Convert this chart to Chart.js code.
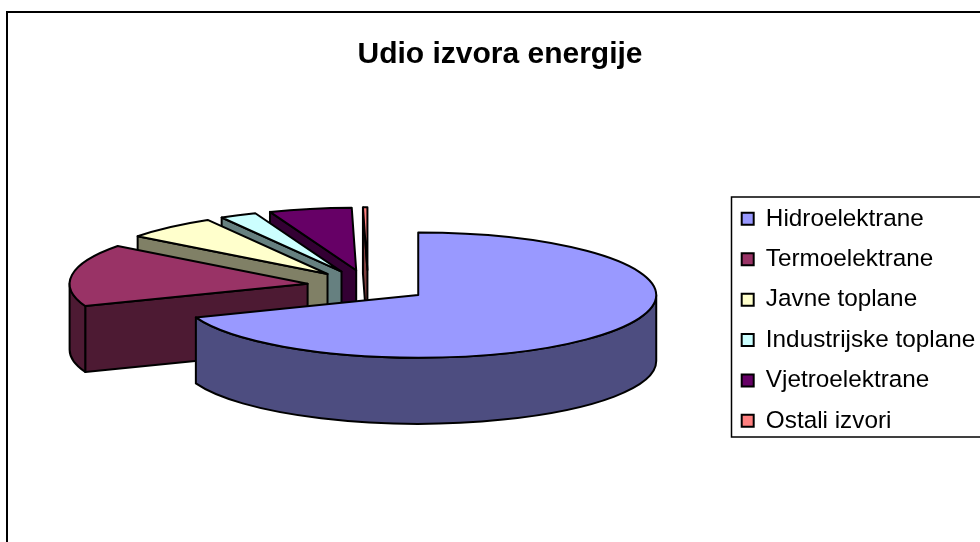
<!DOCTYPE html>
<html lang="hr">
<head>
    <meta charset="UTF-8">
    <title>Udio izvora energije</title>
    <script src="https://cdn.jsdelivr.net/npm/chart.js"></script>
    <style>
        html, body { margin: 0; padding: 0; background: #fff; }
        canvas { display: block; }
    </style>
</head>
<body>
    <canvas id="udio-chart" width="980" height="542"></canvas>

    <script>
        // Podaci ocitani sa slike (postotci)
        const categories = ['Hidroelektrane', 'Termoelektrane', 'Javne toplane', 'Industrijske toplane', 'Vjetroelektrane', 'Ostali izvori'];
        const shares = [69.2, 16.1, 6.3, 2.5, 5.6, 0.3];
        const topColors = ['#9999FF', '#993366', '#FFFFCC', '#CCFFFF', '#660066', '#FF8080'];
        const wallColors = ['#4D4D80', '#4D1A33', '#808066', '#668080', '#330033', '#804040'];
        const chartTitle = 'Udio izvora energije';

        // 3D izgled pite
        const PIE_X = 368, PIE_Y = 286, RADIUS = 238, SQUASH = 0.263, DEPTH = 66, EXPLODE = 61;
        const OUTLINE = 2;

        function drawSlice(ctx, arc, index) {
            const a0 = arc.startAngle, a1 = arc.endAngle;
            const mid = (a0 + a1) / 2;
            const R = arc.outerRadius;
            const tx = PIE_X + Math.cos(mid) * EXPLODE;
            const ty = PIE_Y + Math.sin(mid) * EXPLODE * SQUASH;
            const px = a => tx + Math.cos(a) * R;
            const py = a => ty + Math.sin(a) * R * SQUASH;

            ctx.save();
            ctx.lineWidth = OUTLINE;
            ctx.lineJoin = 'round';
            ctx.strokeStyle = '#000';
            ctx.fillStyle = wallColors[index];

            // rezni zidovi, samo oni okrenuti prema gledatelju
            const cutWall = a => {
                ctx.beginPath();
                ctx.moveTo(tx, ty);
                ctx.lineTo(px(a), py(a));
                ctx.lineTo(px(a), py(a) + DEPTH);
                ctx.lineTo(tx, ty + DEPTH);
                ctx.closePath();
                ctx.fill();
                ctx.stroke();
            };
            if (Math.cos(a0) < -1e-6) cutWall(a0);
            if (Math.cos(a1) > 1e-6) cutWall(a1);

            // vanjski zid, donja polovica elipse
            const TAU = Math.PI * 2;
            [[0, Math.PI], [TAU, TAU + Math.PI]].forEach(([lo, hi]) => {
                const s = Math.max(a0, lo), e = Math.min(a1, hi);
                if (e <= s) return;
                ctx.beginPath();
                ctx.ellipse(tx, ty, R, R * SQUASH, 0, s, e);
                ctx.ellipse(tx, ty + DEPTH, R, R * SQUASH, 0, e, s, true);
                ctx.closePath();
                ctx.fill();
                ctx.stroke();
            });

            // gornja ploha crta sam Chart.js luk
            ctx.save();
            ctx.translate(tx, ty);
            ctx.scale(1, SQUASH);
            ctx.translate(-arc.x, -arc.y);
            arc.draw(ctx);
            ctx.restore();

            ctx.beginPath();
            ctx.moveTo(tx, ty);
            ctx.ellipse(tx, ty, R, R * SQUASH, 0, a0, a1);
            ctx.closePath();
            ctx.stroke();
            ctx.restore();
        }

        const pie3d = {
            id: 'pie3d',
            afterLayout(chart) {
                // legenda i naslov stoje gdje i na originalu
                const legend = chart.legend;
                legend.left = 725.6;
                legend.right = 980;
                legend.top = 190.6;
                legend.bottom = 542;
                chart.titleBlock.left = 20;
                chart.titleBlock.right = 980;
            },
            beforeDraw(chart) {
                const ctx = chart.ctx;
                ctx.save();
                ctx.strokeStyle = '#000';
                ctx.lineWidth = 2;
                ctx.strokeRect(7, 12, 990, 560);
                ctx.lineWidth = 1.5;
                ctx.strokeRect(731.5, 197, 270, 240);
                ctx.restore();
            },
            beforeDatasetsDraw(chart) {
                const arcs = chart.getDatasetMeta(0).data;
                // od straznjih prema prednjima
                for (let i = arcs.length - 1; i >= 0; i--) {
                    drawSlice(chart.ctx, arcs[i], i);
                }
                return false;
            }
        };

        new Chart(document.getElementById('udio-chart'), {
            type: 'pie',
            data: {
                labels: categories,
                datasets: [{
                    data: shares,
                    backgroundColor: topColors,
                    borderWidth: 0,
                    radius: RADIUS
                }]
            },
            options: {
                responsive: false,
                animation: false,
                plugins: {
                    title: {
                        display: true,
                        text: chartTitle,
                        color: '#000',
                        font: { family: '"Liberation Sans"', size: 30, weight: 'bold' },
                        padding: { top: 37, bottom: 10 }
                    },
                    legend: {
                        position: 'right',
                        align: 'start',
                        labels: {
                            color: '#000',
                            font: { family: '"Liberation Sans"', size: 24.3 },
                            boxWidth: 12,
                            boxHeight: 12,
                            padding: 16.1,
                            generateLabels(chart) {
                                return Chart.overrides.doughnut.plugins.legend.labels.generateLabels(chart).map(item => {
                                    item.strokeStyle = '#000';
                                    item.lineWidth = 2;
                                    return item;
                                });
                            }
                        }
                    },
                    tooltip: { enabled: false }
                }
            },
            plugins: [pie3d]
        });
    </script>
</body>
</html>
